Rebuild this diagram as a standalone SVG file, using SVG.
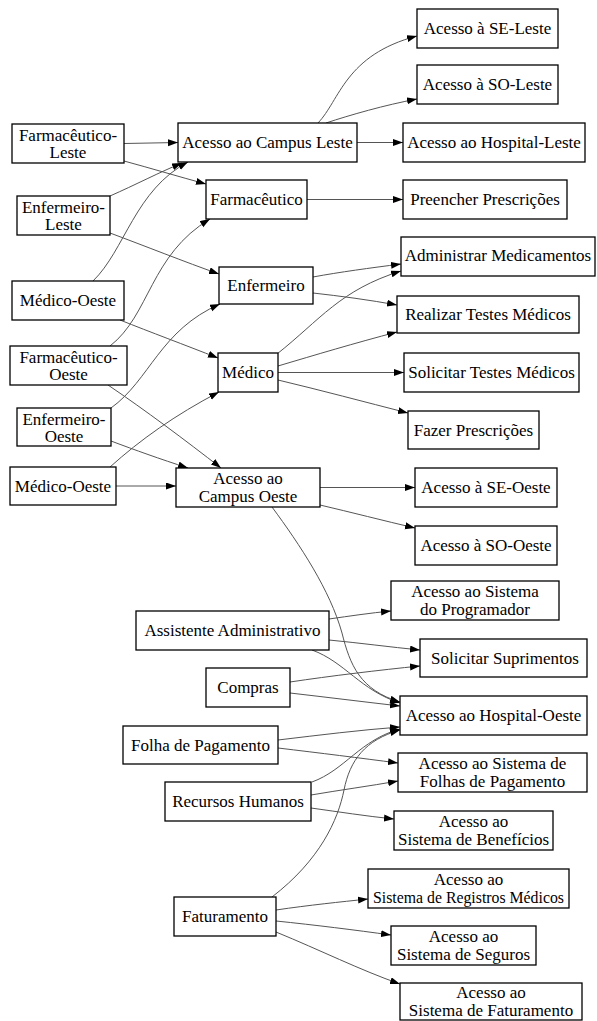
<svg xmlns="http://www.w3.org/2000/svg" width="597" height="1021" viewBox="0 0 597 1021">
<style>
.n rect{fill:#fff;stroke:#000;stroke-width:1.3}
.n text{font-family:"Liberation Serif","Times New Roman",serif;font-size:17px;fill:#000;text-anchor:middle}
.e path{fill:none;stroke:#555;stroke-width:1;marker-end:url(#ah)}
</style>
<defs>
<marker id="ah" markerUnits="userSpaceOnUse" markerWidth="10" markerHeight="8" refX="10" refY="3.5" orient="auto"><path d="M0,0 L10,3.5 L0,7 z" fill="#000"/></marker>
</defs>
<rect width="597" height="1021" fill="#fff"/>
<g id="edges" class="e">
<path d="M124,143.5 L178,142.5"/>
<path d="M124,161 C150,168 180,177 206,184"/>
<path d="M110,196 C135,185 160,172 182,163"/>
<path d="M93,281 C125,250 135,190 188,162"/>
<path d="M110,346 C150,315 150,255 210,219"/>
<path d="M110,233 C145,246 185,262 219,274"/>
<path d="M120,320 C150,332 185,345 218,358"/>
<path d="M111,408 C150,380 160,330 220,304"/>
<path d="M108,385 C145,410 185,440 221,468"/>
<path d="M110,467 C140,440 175,415 219,392"/>
<path d="M111,441 C135,450 160,459 188,468"/>
<path d="M116,486 L176,486"/>
<path d="M318,123 C340,100 345,55 417,36"/>
<path d="M326,123 C350,115 385,105 417,99"/>
<path d="M357,142.5 L403,142.5"/>
<path d="M307,199.5 L403,199.5"/>
<path d="M313,277 C340,272 370,268 401,264"/>
<path d="M313,293 C340,296 370,300 397,305"/>
<path d="M277,354 C320,320 340,290 401,271"/>
<path d="M278,366 C315,355 355,343 397,332"/>
<path d="M278,372.5 L404,372.5"/>
<path d="M278,380 C320,390 365,402 408,413"/>
<path d="M320,487.5 L415,487.5"/>
<path d="M320,505 C350,512 385,521 415,528"/>
<path d="M272,507 C300,545 330,590 342,633 C350,665 360,690 400,702"/>
<path d="M329,619 C350,616 370,613 391,611"/>
<path d="M329,640 C360,643 390,647 420,650"/>
<path d="M312,650 C345,662 360,690 400,703"/>
<path d="M290,682 C330,676 380,670 420,666"/>
<path d="M290,693 C325,697 365,702 400,706"/>
<path d="M278,740 C320,735 360,730 400,727"/>
<path d="M278,748 C320,753 360,758 398,763"/>
<path d="M312,782 C345,770 360,740 400,729"/>
<path d="M311,795 C340,790 370,786 398,781"/>
<path d="M311,808 C340,812 365,816 394,819"/>
<path d="M272,897 C320,860 338,820 344,790 C350,760 365,740 400,730"/>
<path d="M276,910 C310,905 340,902 368,899"/>
<path d="M276,921 C315,925 355,930 391,935"/>
<path d="M276,932 C320,950 360,970 400,984"/>
</g>
<g id="n1" class="n"><rect x="12" y="124" width="112" height="39"/><text x="68" y="141">Farmacêutico-</text><text x="68" y="158">Leste</text></g>
<g id="n2" class="n"><rect x="17" y="196" width="93" height="39"/><text x="63.5" y="213">Enfermeiro-</text><text x="63.5" y="230">Leste</text></g>
<g id="n3" class="n"><rect x="12" y="281" width="112" height="39"/><text x="68" y="306">Médico-Oeste</text></g>
<g id="n4" class="n"><rect x="10" y="346" width="117" height="39"/><text x="68.5" y="363">Farmacêutico-</text><text x="68.5" y="380">Oeste</text></g>
<g id="n5" class="n"><rect x="17" y="408" width="94" height="38"/><text x="64" y="425">Enfermeiro-</text><text x="64" y="442">Oeste</text></g>
<g id="n6" class="n"><rect x="10" y="467" width="106" height="38"/><text x="63" y="491.5">Médico-Oeste</text></g>
<g id="n7" class="n"><rect x="178" y="123" width="179" height="39"/><text x="267.5" y="148">Acesso ao Campus Leste</text></g>
<g id="n8" class="n"><rect x="206" y="180" width="101" height="39"/><text x="256.5" y="205">Farmacêutico</text></g>
<g id="n9" class="n"><rect x="219" y="267" width="94" height="37"/><text x="266" y="291">Enfermeiro</text></g>
<g id="n10" class="n"><rect x="218" y="353" width="60" height="39"/><text x="248" y="378">Médico</text></g>
<g id="n11" class="n"><rect x="176" y="468" width="144" height="39"/><text x="248" y="484">Acesso ao</text><text x="248" y="502">Campus Oeste</text></g>
<g id="n12" class="n"><rect x="417" y="9" width="141" height="39"/><text x="487.5" y="34">Acesso à SE-Leste</text></g>
<g id="n13" class="n"><rect x="417" y="65" width="141" height="39"/><text x="487.5" y="90">Acesso à SO-Leste</text></g>
<g id="n14" class="n"><rect x="403" y="123" width="182" height="39"/><text x="494" y="148">Acesso ao Hospital-Leste</text></g>
<g id="n15" class="n"><rect x="403" y="180" width="164" height="39"/><text x="485" y="205">Preencher Prescrições</text></g>
<g id="n16" class="n"><rect x="401" y="237" width="194" height="39"/><text x="498" y="261">Administrar Medicamentos</text></g>
<g id="n17" class="n"><rect x="397" y="296" width="182" height="37"/><text x="488" y="320">Realizar Testes Médicos</text></g>
<g id="n18" class="n"><rect x="404" y="353" width="175" height="39"/><text x="491.5" y="378">Solicitar Testes Médicos</text></g>
<g id="n19" class="n"><rect x="408" y="411" width="131" height="38"/><text x="473.5" y="435.5">Fazer Prescrições</text></g>
<g id="n20" class="n"><rect x="415" y="468" width="142" height="39"/><text x="486" y="493">Acesso à SE-Oeste</text></g>
<g id="n21" class="n"><rect x="415" y="526" width="142" height="39"/><text x="486" y="551">Acesso à SO-Oeste</text></g>
<g id="n22" class="n"><rect x="136" y="611" width="193" height="39"/><text x="232.5" y="636">Assistente Administrativo</text></g>
<g id="n23" class="n"><rect x="206" y="668" width="84" height="39"/><text x="248" y="693">Compras</text></g>
<g id="n24" class="n"><rect x="123" y="726" width="155" height="38"/><text x="200.5" y="750.5">Folha de Pagamento</text></g>
<g id="n25" class="n"><rect x="165" y="782" width="146" height="39"/><text x="238" y="807">Recursos Humanos</text></g>
<g id="n26" class="n"><rect x="174" y="897" width="102" height="39"/><text x="225" y="922">Faturamento</text></g>
<g id="n27" class="n"><rect x="391" y="581" width="168" height="39"/><text x="475" y="597">Acesso ao Sistema</text><text x="475" y="615">do Programador</text></g>
<g id="n28" class="n"><rect x="420" y="639" width="167" height="38"/><text x="505" y="663.5">Solicitar Suprimentos</text></g>
<g id="n29" class="n"><rect x="400" y="696" width="187" height="39"/><text x="493.5" y="721">Acesso ao Hospital-Oeste</text></g>
<g id="n30" class="n"><rect x="398" y="753" width="189" height="39"/><text x="492.5" y="769">Acesso ao Sistema de</text><text x="492.5" y="787">Folhas de Pagamento</text></g>
<g id="n31" class="n"><rect x="394" y="811" width="159" height="39"/><text x="473.5" y="827">Acesso ao</text><text x="473.5" y="845">Sistema de Benefícios</text></g>
<g id="n32" class="n"><rect x="368" y="869" width="201" height="39"/><text x="468.5" y="885">Acesso ao</text><text x="468.5" y="903" textLength="191" lengthAdjust="spacingAndGlyphs">Sistema de Registros Médicos</text></g>
<g id="n33" class="n"><rect x="391" y="926" width="145" height="39"/><text x="463.5" y="942">Acesso ao</text><text x="463.5" y="960">Sistema de Seguros</text></g>
<g id="n34" class="n"><rect x="400" y="983" width="182" height="37"/><text x="491" y="998">Acesso ao</text><text x="491" y="1016">Sistema de Faturamento</text></g>
</svg>
